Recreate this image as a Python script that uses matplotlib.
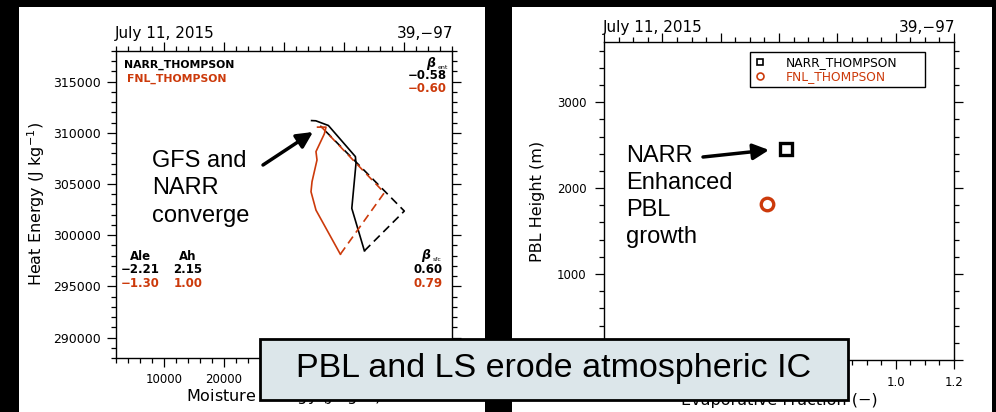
import matplotlib
matplotlib.use("Agg")
import matplotlib.pyplot as plt
from matplotlib.patches import Rectangle
from matplotlib.lines import Line2D
from matplotlib.ticker import MultipleLocator

RED = '#CC3A0B'
W, H = 996, 412

# left panel: heat energy vs moisture energy trajectories
narr_solid_x = [34600, 35300, 37400, 41900, 42000, 41300, 43400]
narr_solid_y = [311200, 311180, 310720, 307680, 307030, 302620, 298470]
narr_dash_x = [43400, 50050, 36050]
narr_dash_y = [298470, 302360, 310690]

fnl_solid_x = [35600, 37000, 36720, 35330, 35500, 34670, 34500, 35330, 39390]
fnl_solid_y = [310560, 310560, 309900, 308170, 307350, 305230, 304250, 302450, 298140]
fnl_dash_x = [39390, 46720, 36170]
fnl_dash_y = [298140, 304150, 310620]

# stats printed in the left panel
beta_ent = ['\u22120.58', '\u22120.60']
beta_sfc = ['0.60', '0.79']
ale = ['\u22122.21', '\u22121.30']
ah = ['2.15', '1.00']

# right panel: PBL height vs evaporative fraction
ef = [0.624, 0.558]
pbl = [2455, 1815]
names = ['NARR_THOMPSON', 'FNL_THOMPSON']

def fx(px):
    return px / W

def fy(py):
    return 1 - py / H

plt.rcParams['font.family'] = ['DejaVu Sans']
fig = plt.figure(figsize=(W / 100, H / 100), dpi=100, facecolor='black')

# white panels
fig.patches.append(Rectangle((fx(19), 0), fx(485) - fx(19), fy(7), transform=fig.transFigure,
                             facecolor='white', edgecolor='none', zorder=-5))
fig.patches.append(Rectangle((fx(512), 0), fx(992) - fx(512), fy(7), transform=fig.transFigure,
                             facecolor='white', edgecolor='none', zorder=-5))

def style_axes(ax):
    for s in ax.spines.values():
        s.set_linewidth(1.0)
    ax.tick_params(which='both', direction='out', top=True, right=True, width=0.9)
    ax.tick_params(which='major', length=6.5)
    ax.tick_params(which='minor', length=3.5)

# ---------------- left panel
ax1 = fig.add_axes([fx(116), fy(358), fx(452) - fx(116), fy(51) - fy(358)])
style_axes(ax1)
ax1.plot(narr_solid_x, narr_solid_y, color='black', lw=1.2)
ax1.plot(narr_dash_x, narr_dash_y, color='black', lw=1.2, ls=(0, (5, 3)))
ax1.plot(fnl_solid_x, fnl_solid_y, color=RED, lw=1.2)
ax1.plot(fnl_dash_x, fnl_dash_y, color=RED, lw=1.2, ls=(0, (5, 3)))
ax1.set_xlim(2000, 58000)
ax1.set_ylim(288000, 318000)
ax1.set_xticks([10000, 20000, 30000, 40000, 50000])
ax1.set_xticklabels(['10000', '20000', '', '', ''])  # the rest sit under the caption box
ax1.xaxis.set_minor_locator(MultipleLocator(2000))
ax1.yaxis.set_major_locator(MultipleLocator(5000))
ax1.yaxis.set_minor_locator(MultipleLocator(1000))
ax1.tick_params(axis='y', labelsize=9, pad=4.5)
ax1.tick_params(axis='x', labelsize=8.5, pad=4)

fig.text(fx(36), fy(204), 'Heat Energy (J kg$^{-1}$)', rotation=90, fontsize=11.5,
         ha='center', va='center')
fig.text(fx(284), fy(396), 'Moisture Energy (J kg$^{-1}$)', fontsize=11.5, ha='center', va='center')
fig.text(fx(115), fy(38), 'July 11, 2015', fontsize=11, ha='left', va='baseline')
fig.text(fx(453), fy(38), '39,\u221297', fontsize=11, ha='right', va='baseline')

fig.text(fx(124), fy(68), names[0], fontsize=7.8, fontweight='bold', color='black', va='baseline')
fig.text(fx(127), fy(82), names[1], fontsize=7.8, fontweight='bold', color=RED, va='baseline')

fig.text(fx(435), fy(67), '\u03b2', fontsize=9, fontweight='bold', style='italic', ha='right', va='baseline')
fig.text(fx(438), fy(69), 'ent', fontsize=4.5, ha='left', va='baseline')
fig.text(fx(447), fy(79), beta_ent[0], fontsize=8.5, fontweight='bold', color='black', ha='right', va='baseline')
fig.text(fx(447), fy(92), beta_ent[1], fontsize=8.5, fontweight='bold', color=RED, ha='right', va='baseline')

fig.text(fx(430), fy(259), '\u03b2', fontsize=9, fontweight='bold', style='italic', ha='right', va='baseline')
fig.text(fx(433), fy(261), 'sfc', fontsize=4.5, ha='left', va='baseline')
fig.text(fx(443), fy(273), beta_sfc[0], fontsize=8.5, fontweight='bold', color='black', ha='right', va='baseline')
fig.text(fx(443), fy(287), beta_sfc[1], fontsize=8.5, fontweight='bold', color=RED, ha='right', va='baseline')

fig.text(fx(140), fy(260), 'Ale', fontsize=8.5, fontweight='bold', ha='center', va='baseline')
fig.text(fx(188), fy(260), 'Ah', fontsize=8.5, fontweight='bold', ha='center', va='baseline')
fig.text(fx(140), fy(273), ale[0], fontsize=8.5, fontweight='bold', color='black', ha='center', va='baseline')
fig.text(fx(188), fy(273), ah[0], fontsize=8.5, fontweight='bold', color='black', ha='center', va='baseline')
fig.text(fx(140), fy(287), ale[1], fontsize=8.5, fontweight='bold', color=RED, ha='center', va='baseline')
fig.text(fx(188), fy(287), ah[1], fontsize=8.5, fontweight='bold', color=RED, ha='center', va='baseline')

for i, line in enumerate(['GFS and', 'NARR', 'converge']):
    fig.text(fx(152), fy(167 + 27.5 * i), line, fontsize=17, family='Liberation Sans', va='baseline')
ax1.annotate('', xy=(fx(313), fy(132)), xytext=(fx(263), fy(165)), xycoords='figure fraction',
             textcoords='figure fraction',
             arrowprops=dict(arrowstyle='-|>', lw=2.5, color='black', mutation_scale=24,
                             shrinkA=0, shrinkB=0))

# ---------------- right panel
ax2 = fig.add_axes([fx(604), fy(360), fx(954) - fx(604), fy(42) - fy(360)])
style_axes(ax2)
ax2.plot(ef[0], pbl[0], ls='none', marker='s', ms=9, mfc='none', mec='black', mew=2.4)
ax2.plot(ef[1], pbl[1], ls='none', marker='o', ms=9, mfc='none', mec=RED, mew=2.4)
ax2.set_xlim(0, 1.2)
ax2.set_ylim(0, 3700)
ax2.set_xticks([0.0, 0.2, 0.4, 0.6, 0.8, 1.0, 1.2])
ax2.set_xticklabels(['', '', '', '', '', '1.0', '1.2'])  # the rest sit under the caption box
ax2.xaxis.set_minor_locator(MultipleLocator(0.05))
ax2.set_yticks([0, 1000, 2000, 3000])
ax2.set_yticklabels(['', '1000', '2000', '3000'])
ax2.yaxis.set_minor_locator(MultipleLocator(200))
ax2.tick_params(axis='y', labelsize=8.5, pad=6)
ax2.tick_params(axis='x', labelsize=8.5, pad=5)

fig.text(fx(537), fy(201), 'PBL Height (m)', rotation=90, fontsize=11.5, ha='center', va='center')
fig.text(fx(779), fy(400), 'Evaporative Fraction (\u2212)', fontsize=11.5, ha='center', va='center')
fig.text(fx(603), fy(32), 'July 11, 2015', fontsize=11, ha='left', va='baseline')
fig.text(fx(955), fy(32), '39,\u221297', fontsize=11, ha='right', va='baseline')

handles = [Line2D([], [], ls='none', marker='s', ms=5, mfc='none', mec='black', mew=1.2),
           Line2D([], [], ls='none', marker='o', ms=5, mfc='none', mec=RED, mew=1.2)]
leg = ax2.legend(handles, names, loc='upper left', mode='expand',
                 bbox_to_anchor=(fx(750), fy(85), fx(925) - fx(750), fy(52) - fy(85)),
                 bbox_transform=fig.transFigure, borderaxespad=0, fontsize=8.8,
                 fancybox=False, framealpha=1, edgecolor='black', handlelength=1.0,
                 handletextpad=1.6, labelspacing=0.05, borderpad=0.35)
leg.get_frame().set_linewidth(1.0)
leg.get_texts()[1].set_color(RED)

for i, line in enumerate(['NARR', 'Enhanced', 'PBL', 'growth']):
    fig.text(fx(626), fy(162 + 27 * i), line, fontsize=17, family='Liberation Sans', va='baseline')
ax2.annotate('', xy=(fx(769), fy(150)), xytext=(fx(703), fy(157)), xycoords='figure fraction',
             textcoords='figure fraction',
             arrowprops=dict(arrowstyle='-|>', lw=2.5, color='black', mutation_scale=24,
                             shrinkA=0, shrinkB=0))

# ---------------- caption box
fig.patches.append(Rectangle((fx(260), fy(400)), fx(848) - fx(260), fy(339) - fy(400),
                             transform=fig.transFigure, facecolor='#DCE6EA',
                             edgecolor='black', lw=2, zorder=10))
fig.text(fx(554), fy(369), 'PBL and LS erode atmospheric IC', fontsize=24.5,
         family='Liberation Sans', ha='center', va='center', zorder=11)

fig.savefig('out.png', dpi=100, facecolor='black')
